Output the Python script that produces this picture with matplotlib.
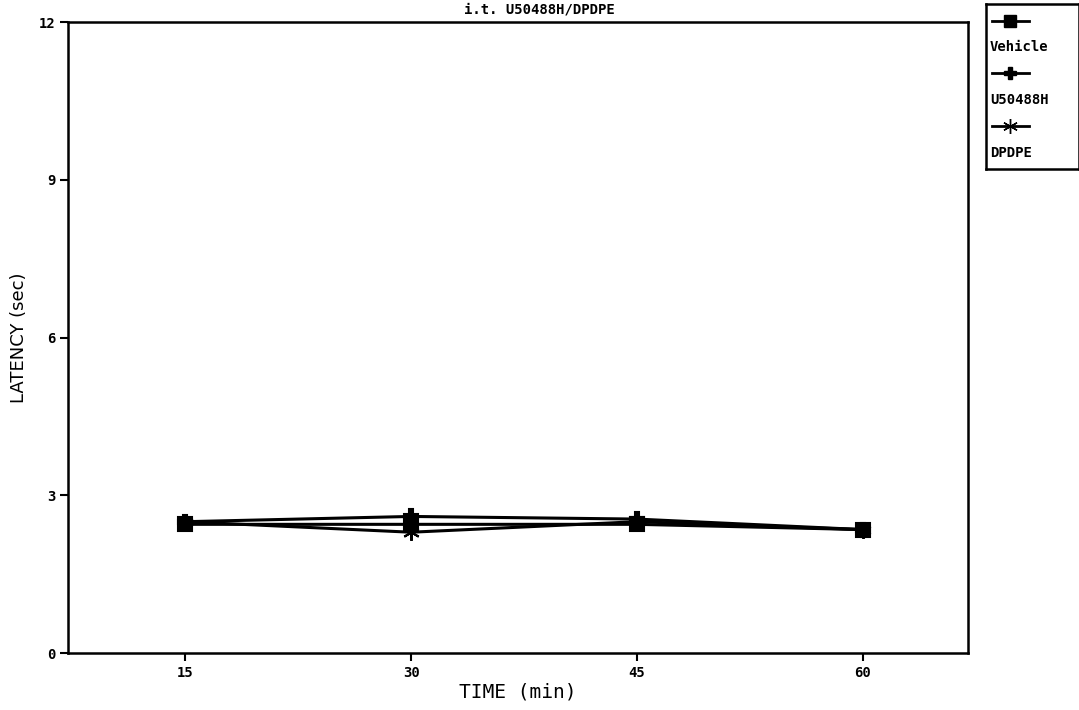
import matplotlib.pyplot as plt
from matplotlib.lines import Line2D

# data
time_min = [15, 30, 45, 60]
vehicle = [2.45, 2.45, 2.45, 2.35]
u50488h = [2.50, 2.60, 2.55, 2.35]
dpdpe = [2.50, 2.30, 2.50, 2.35]

series_names = ["Vehicle", "U50488H", "DPDPE"]
series_values = [vehicle, u50488h, dpdpe]
series_markers = ["s", "P", (6, 2, 0)]
series_msize = [10, 10, 12]

y_ticks = [0, 3, 6, 9, 12]

fig = plt.figure(figsize=(10.79, 7.10), dpi=100)
ax = fig.add_axes([0.063, 0.080, 0.834, 0.889])

for name, vals, mk, ms in zip(series_names, series_values, series_markers, series_msize):
    ax.plot(time_min, vals, color="black", lw=2.2, marker=mk, markersize=ms,
            markeredgewidth=1.5, markerfacecolor="black", markeredgecolor="black",
            label=name, clip_on=False)

ax.set_xlim(7.2, 67)
ax.set_ylim(0, 12)
ax.set_xticks(time_min)
ax.set_yticks(y_ticks)
ax.tick_params(axis="both", direction="out", length=6, width=1.5,
               top=False, right=False, labelsize=10, pad=3)
for lab in ax.get_xticklabels() + ax.get_yticklabels():
    lab.set_fontweight("bold")
    lab.set_family("DejaVu Sans Mono")
for sp in ax.spines.values():
    sp.set_linewidth(1.8)

ax.set_xlabel("TIME (min)", fontsize=14, family="DejaVu Sans Mono", labelpad=2)
ax.set_ylabel("LATENCY (sec)", fontsize=13, family="DejaVu Sans", labelpad=8)
fig.text(0.5, 0.997, "i.t. U50488H/DPDPE", ha="center", va="top",
         fontsize=10, family="DejaVu Sans Mono", fontweight="bold")

# legend box on the right, sample line above each label
lax = fig.add_axes([0.914, 0.762, 0.086, 0.232])
lax.set_xlim(0, 1)
lax.set_ylim(0, 1)
lax.set_xticks([])
lax.set_yticks([])
for sp in lax.spines.values():
    sp.set_linewidth(1.8)
row_y = [0.90, 0.58, 0.26]
for name, mk, ms, yy in zip(series_names, series_markers, series_msize, row_y):
    lax.add_line(Line2D([0.06, 0.26, 0.46], [yy, yy, yy], color="black", lw=2,
                        marker=mk, markevery=[1], markersize=ms * 0.9,
                        markerfacecolor="black", markeredgecolor="black"))
    lax.text(0.04, yy - 0.16, name, fontsize=10, fontweight="bold",
             family="DejaVu Sans Mono", va="center", ha="left")

fig.savefig("out.png", dpi=100)
